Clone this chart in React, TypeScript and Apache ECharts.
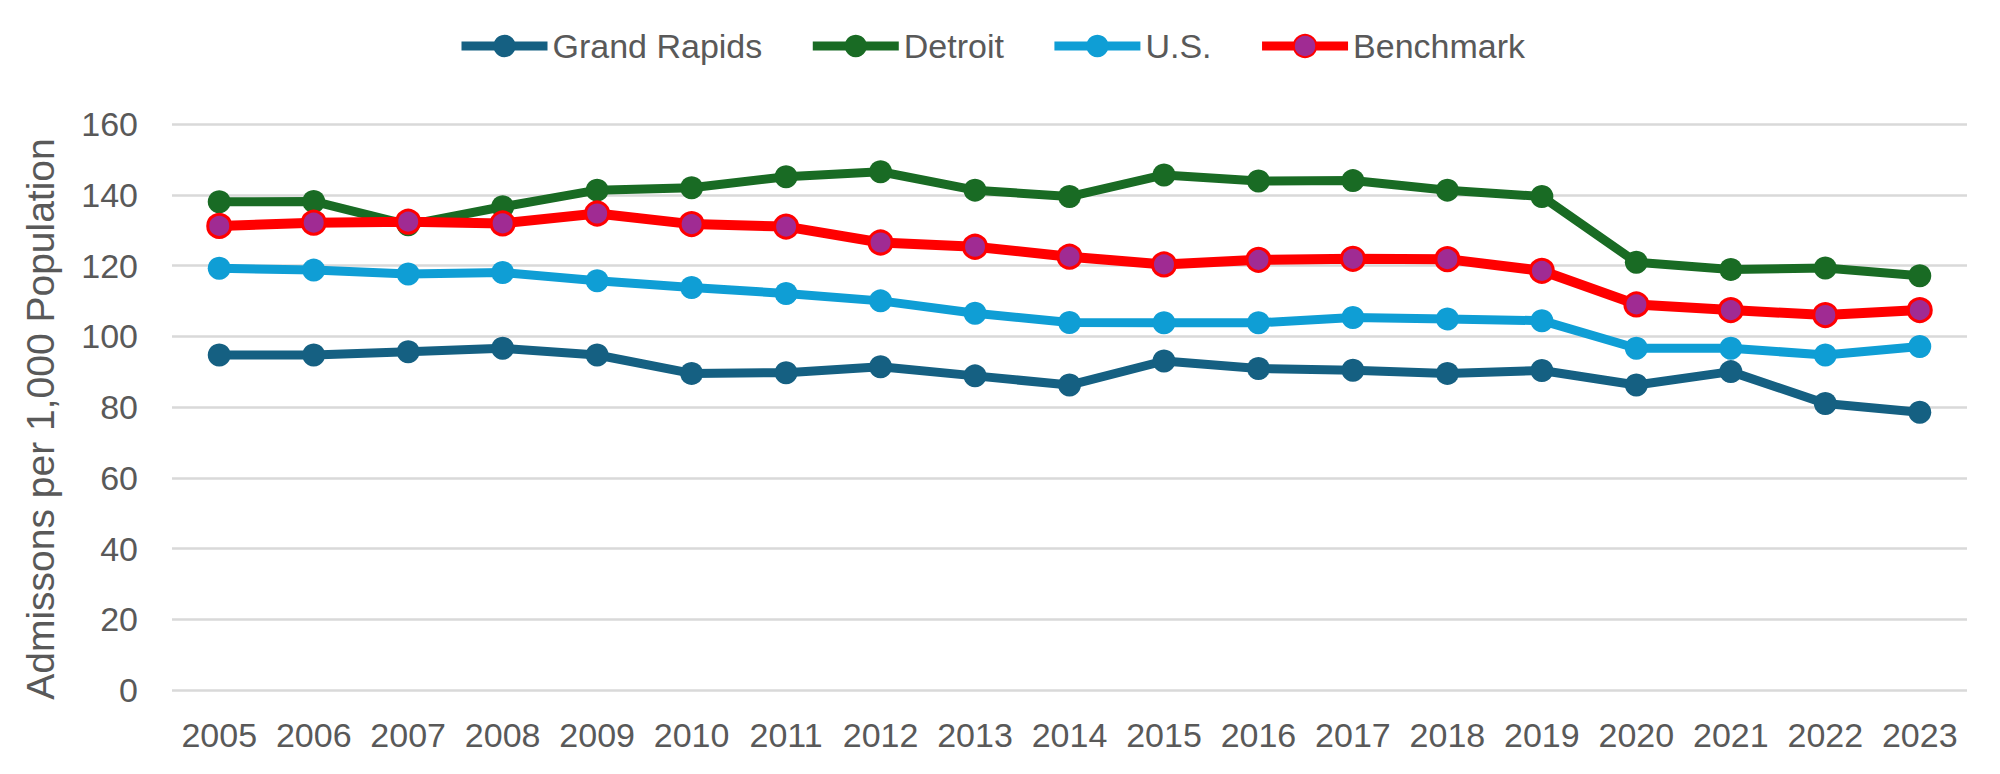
import React, { useEffect, useRef } from "react";
import * as echarts from "echarts";

const years = ["2005","2006","2007","2008","2009","2010","2011","2012","2013","2014","2015","2016","2017","2018","2019","2020","2021","2022","2023"];
const grandRapids = [94.7, 94.7, 95.6, 96.6, 94.7, 89.5, 89.7, 91.4, 88.8, 86.2, 93.0, 90.9, 90.4, 89.5, 90.3, 86.2, 90.0, 81.0, 78.5];
const detroit = [138.0, 138.1, 131.5, 136.6, 141.3, 142.0, 145.1, 146.5, 141.3, 139.5, 145.6, 143.9, 144.0, 141.3, 139.5, 120.9, 118.9, 119.3, 117.1];
const us = [119.2, 118.7, 117.6, 118.0, 115.7, 113.8, 112.1, 110.0, 106.5, 103.9, 103.8, 103.8, 105.3, 104.9, 104.4, 96.6, 96.6, 94.7, 97.1];
const benchmark = [131.2, 132.1, 132.4, 131.9, 134.7, 131.7, 131.0, 126.5, 125.3, 122.5, 120.3, 121.6, 121.9, 121.8, 118.5, 109.0, 107.4, 106.0, 107.4];

const FONT = "'Liberation Sans', Arial, sans-serif";
const GRAY = "#595959";

export default function App() {
  const ref = useRef<HTMLDivElement>(null);
  useEffect(() => {
    if (!ref.current) return;
    const chart = echarts.init(ref.current, undefined, { renderer: "svg" });
    const mk = (name: string, data: number[], line: string, fill: string, border: string, bw: number, lw: number) => ({
      name,
      type: "line",
      data,
      symbol: "circle",
      symbolSize: 23,
      lineStyle: { color: line, width: lw },
      itemStyle: { color: fill, borderColor: border, borderWidth: bw },
      emphasis: { disabled: true },
    });
    chart.setOption({
      animation: false,
      backgroundColor: "#ffffff",
      textStyle: { fontFamily: FONT },
      legend: {
        top: 24,
        left: 452,
        itemWidth: 86,
        itemHeight: 28,
        itemGap: 46,
        lineStyle: { width: 9 },
        textStyle: { fontSize: 34, color: GRAY, fontFamily: FONT },
        data: ["Grand Rapids", "Detroit", "U.S.", "Benchmark"],
      },
      grid: { left: 172, right: 33, top: 124, bottom: 84 },
      xAxis: {
        type: "category",
        data: years,
        boundaryGap: true,
        axisLine: { show: false },
        axisTick: { show: false },
        axisLabel: { color: GRAY, fontSize: 34, fontFamily: FONT, margin: 28, interval: 0, hideOverlap: false },
      },
      yAxis: {
        type: "value",
        min: 0,
        max: 160,
        interval: 20,
        name: "Admissons per 1,000 Population",
        nameLocation: "middle",
        nameRotate: 90,
        nameGap: 112,
        nameTextStyle: { fontSize: 39, color: GRAY, fontFamily: FONT, padding: [0, 24, 0, 0] },
        axisLine: { show: false },
        axisTick: { show: false },
        axisLabel: { color: GRAY, fontSize: 34, fontFamily: FONT, margin: 34 },
        splitLine: { lineStyle: { color: "#d9d9d9", width: 2.5 } },
      },
      series: [
        mk("Grand Rapids", grandRapids, "#156082", "#156082", "#156082", 0, 9),
        mk("Detroit", detroit, "#196B24", "#196B24", "#196B24", 0, 9),
        mk("U.S.", us, "#0F9ED5", "#0F9ED5", "#0F9ED5", 0, 9),
        mk("Benchmark", benchmark, "#FF0000", "#A02B93", "#FF0000", 3, 10),
      ],
    });
    return () => chart.dispose();
  }, []);
  return <div ref={ref} style={{ position: "absolute", left: 0, top: 0, width: 2000, height: 774 }} />;
}
